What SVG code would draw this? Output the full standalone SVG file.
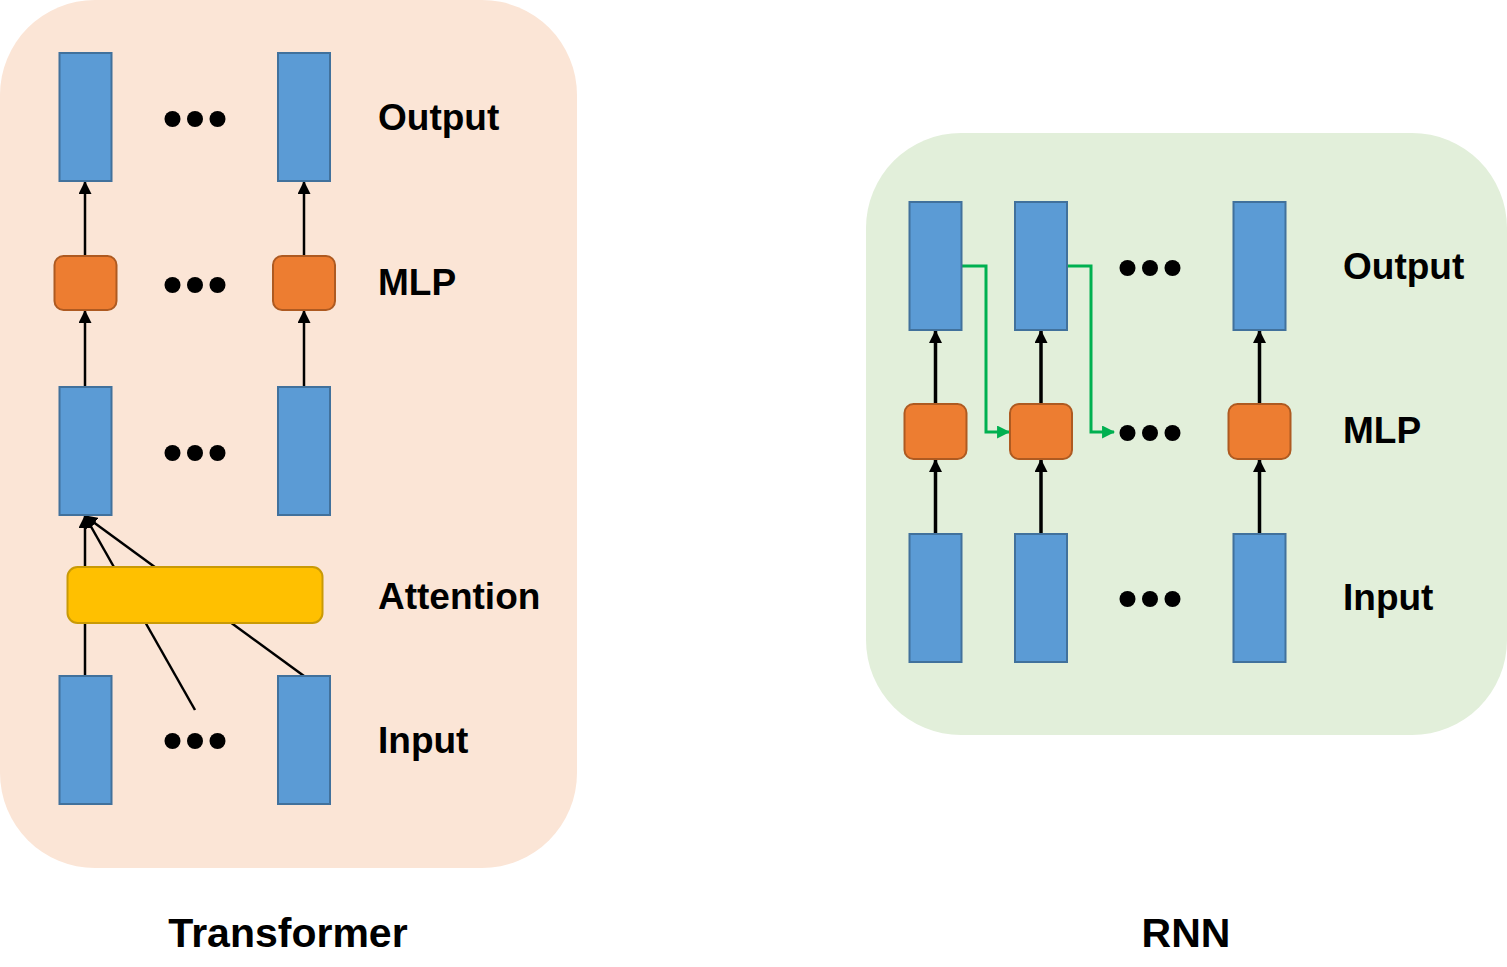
<svg xmlns="http://www.w3.org/2000/svg" width="1507" height="967" viewBox="0 0 1507 967">
<style>
.lbl{font-family:"Liberation Sans",Arial,sans-serif;font-weight:bold;font-size:37px;fill:#000}
.title{font-family:"Liberation Sans",Arial,sans-serif;font-weight:bold;font-size:41px;fill:#000}
.vec{fill:#5B9BD5;stroke:#41719C;stroke-width:2}
.mlp{fill:#ED7D31;stroke:#AE5A21;stroke-width:2}
.att{fill:#FFC000;stroke:#C99A06;stroke-width:2}
.a1{stroke:#000;stroke-width:2.5;fill:none}
.a2{stroke:#000;stroke-width:3.5;fill:none}
.g{stroke:#00B050;stroke-width:3;fill:none}
</style>
<defs>
<marker id="ah" markerWidth="13" markerHeight="13" viewBox="0 0 12 12" refX="11" refY="6" orient="auto" markerUnits="userSpaceOnUse">
<path d="M0,0 L12,6 L0,12 Z" fill="#000"/>
</marker>
<marker id="ahg" markerWidth="13" markerHeight="13" viewBox="0 0 12 12" refX="11" refY="6" orient="auto" markerUnits="userSpaceOnUse">
<path d="M0,0 L12,6 L0,12 Z" fill="#00B050"/>
</marker>
<g id="dots3">
<circle cx="-22.5" cy="0" r="8"/><circle cx="0" cy="0" r="8"/><circle cx="22.5" cy="0" r="8"/>
</g>
</defs>

<g id="transformer-panel">
<rect x="0" y="0" width="577" height="868" rx="95" ry="95" fill="#FBE5D6"/>
</g>
<g id="rnn-panel">
<rect x="866" y="133" width="641" height="602" rx="95" ry="95" fill="#E2EFDA"/>
</g>

<g id="connectors">
<line class="a1" x1="85" y1="255" x2="85" y2="182" marker-end="url(#ah)"/>
<line class="a1" x1="304" y1="255" x2="304" y2="182" marker-end="url(#ah)"/>
<line class="a1" x1="85" y1="387" x2="85" y2="311" marker-end="url(#ah)"/>
<line class="a1" x1="304" y1="387" x2="304" y2="311" marker-end="url(#ah)"/>
<line class="a1" x1="85" y1="676" x2="85" y2="516" marker-end="url(#ah)"/>
<line class="a1" x1="195" y1="710" x2="85" y2="516" marker-end="url(#ah)"/>
<line class="a1" x1="304" y1="676" x2="85" y2="516" marker-end="url(#ah)"/>
<line class="a2" x1="935.5" y1="403" x2="935.5" y2="331" marker-end="url(#ah)"/>
<line class="a2" x1="1041" y1="403" x2="1041" y2="331" marker-end="url(#ah)"/>
<line class="a2" x1="1259.5" y1="403" x2="1259.5" y2="331" marker-end="url(#ah)"/>
<line class="a2" x1="935.5" y1="534" x2="935.5" y2="460" marker-end="url(#ah)"/>
<line class="a2" x1="1041" y1="534" x2="1041" y2="460" marker-end="url(#ah)"/>
<line class="a2" x1="1259.5" y1="534" x2="1259.5" y2="460" marker-end="url(#ah)"/>
<polyline class="g" points="962,266 986,266 986,432 1009,432" marker-end="url(#ahg)"/>
<polyline class="g" points="1067,266 1091,266 1091,432 1114,432" marker-end="url(#ahg)"/>
</g>

<g id="t-out-1"><rect class="vec" x="59.5" y="53" width="52" height="128"/></g>
<g id="t-out-2"><rect class="vec" x="278" y="53" width="52" height="128"/></g>
<g id="t-out-dots"><use href="#dots3" x="195" y="119"/></g>
<g id="t-mlp-1"><rect class="mlp" x="54.5" y="256" width="62" height="54" rx="9"/></g>
<g id="t-mlp-2"><rect class="mlp" x="273" y="256" width="62" height="54" rx="9"/></g>
<g id="t-mlp-dots"><use href="#dots3" x="195" y="285"/></g>
<g id="t-mid-1"><rect class="vec" x="59.5" y="387" width="52" height="128"/></g>
<g id="t-mid-2"><rect class="vec" x="278" y="387" width="52" height="128"/></g>
<g id="t-mid-dots"><use href="#dots3" x="195" y="453"/></g>
<g id="t-attention"><rect class="att" x="67.5" y="567" width="255" height="56" rx="10"/></g>
<g id="t-in-1"><rect class="vec" x="59.5" y="676" width="52" height="128"/></g>
<g id="t-in-2"><rect class="vec" x="278" y="676" width="52" height="128"/></g>
<g id="t-in-dots"><use href="#dots3" x="195" y="741"/></g>

<g id="t-labels">
<text class="lbl" x="378" y="130">Output</text>
<text class="lbl" x="378" y="295">MLP</text>
<text class="lbl" x="378" y="609">Attention</text>
<text class="lbl" x="378" y="753">Input</text>
<text class="title" x="288" y="947" text-anchor="middle">Transformer</text>
</g>

<g id="r-out-1"><rect class="vec" x="909.5" y="202" width="52" height="128"/></g>
<g id="r-out-2"><rect class="vec" x="1015" y="202" width="52" height="128"/></g>
<g id="r-out-3"><rect class="vec" x="1233.5" y="202" width="52" height="128"/></g>
<g id="r-out-dots"><use href="#dots3" x="1150" y="268"/></g>
<g id="r-mlp-1"><rect class="mlp" x="904.5" y="404" width="62" height="55" rx="9"/></g>
<g id="r-mlp-2"><rect class="mlp" x="1010" y="404" width="62" height="55" rx="9"/></g>
<g id="r-mlp-3"><rect class="mlp" x="1228.5" y="404" width="62" height="55" rx="9"/></g>
<g id="r-mlp-dots"><use href="#dots3" x="1150" y="433"/></g>
<g id="r-in-1"><rect class="vec" x="909.5" y="534" width="52" height="128"/></g>
<g id="r-in-2"><rect class="vec" x="1015" y="534" width="52" height="128"/></g>
<g id="r-in-3"><rect class="vec" x="1233.5" y="534" width="52" height="128"/></g>
<g id="r-in-dots"><use href="#dots3" x="1150" y="599"/></g>

<g id="r-labels">
<text class="lbl" x="1343" y="279">Output</text>
<text class="lbl" x="1343" y="443">MLP</text>
<text class="lbl" x="1343" y="610">Input</text>
<text class="title" x="1186" y="947" text-anchor="middle">RNN</text>
</g>
</svg>
